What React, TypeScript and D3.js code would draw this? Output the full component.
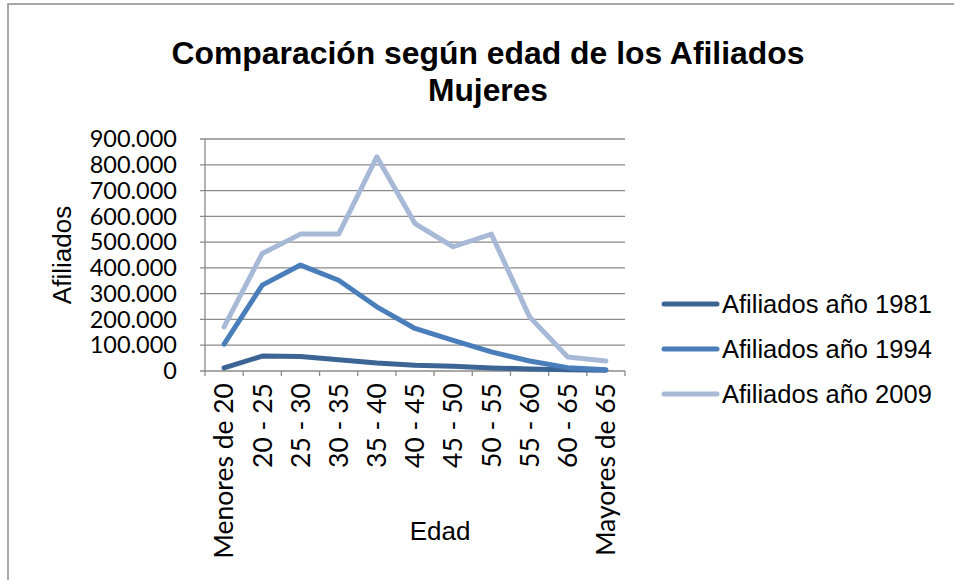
import React from "react";
import * as d3 from "d3";

const categories = ["Menores de 20", "20 - 25", "25 - 30", "30 - 35", "35 - 40", "40 - 45", "45 - 50", "50 - 55", "55 - 60", "60 - 65", "Mayores de 65"];
const seriesNames = ["Afiliados año 1981", "Afiliados año 1994", "Afiliados año 2009"];
const values1981 = [12000, 58000, 56000, 44000, 31000, 22000, 18000, 12000, 8000, 5000, 3000];
const values1994 = [104000, 333000, 411000, 352000, 249000, 165000, 119000, 74000, 39000, 13000, 5000];
const values2009 = [171000, 456000, 531000, 531000, 831000, 572000, 482000, 531000, 210000, 54000, 39000];
const yTicks = [0, 100000, 200000, 300000, 400000, 500000, 600000, 700000, 800000, 900000];
const colors = ["#3C6494", "#4A7EBB", "#A7B9D6"];

const W = 954, H = 580;
const left = 205, right = 625, top = 139, bottom = 371;

export default function App() {
  const x = d3.scaleBand<string>().domain(categories).range([left, right]);
  const y = d3.scaleLinear().domain([0, 900000]).range([bottom, top]);
  const fmt = (v: number) => (v === 0 ? "0" : d3.format(",")(v).replace(/,/g, "."));
  const line = d3.line<number>().x((_, i) => (x(categories[i]) as number) + x.bandwidth() / 2).y((v) => y(v));
  const all = [values1981, values1994, values2009];
  const tickFont = "Lato, 'Open Sans', sans-serif";
  const arial = "'Liberation Sans', Arial, sans-serif";
  return (
    <svg width={W} height={H} style={{ position: "absolute", left: 0, top: 0 }}>
      <rect x={0} y={0} width={W} height={H} fill="#fff" />
      <rect x={8} y={4} width={W + 20} height={H + 20} fill="none" stroke="#8c8c8c" strokeWidth={1.5} />
      <text x={488} y={64} textAnchor="middle" fontFamily={arial} fontWeight="bold" fontSize={31} textLength={633} lengthAdjust="spacingAndGlyphs">Comparación según edad de los Afiliados</text>
      <text x={488} y={101} textAnchor="middle" fontFamily={arial} fontWeight="bold" fontSize={31} textLength={120} lengthAdjust="spacingAndGlyphs">Mujeres</text>
      {yTicks.map((t) => (
        <g key={t}>
          <line x1={left - 5} x2={right} y1={y(t)} y2={y(t)} stroke="#8a8a8a" strokeWidth={1.3} />
          <text x={177} y={y(t)} dy="0.35em" textAnchor="end" fontFamily={tickFont} fontSize={23.5}>{fmt(t)}</text>
        </g>
      ))}
      <line x1={left} x2={left} y1={top} y2={bottom} stroke="#8a8a8a" strokeWidth={1.3} />
      {categories.map((c, i) => (
        <line key={"t" + i} x1={x(c) as number} x2={x(c) as number} y1={bottom} y2={bottom + 5} stroke="#8a8a8a" strokeWidth={1.3} />
      ))}
      <line x1={right} x2={right} y1={bottom} y2={bottom + 5} stroke="#8a8a8a" strokeWidth={1.3} />
      <text transform={`translate(62,255) rotate(-90)`} dy="0.35em" textAnchor="middle" fontFamily={arial} fontSize={26}>Afiliados</text>
      {categories.map((c) => (
        <text key={c} transform={`translate(${(x(c) as number) + x.bandwidth() / 2},383) rotate(-90)`} dy="0.35em" textAnchor="end" fontFamily={tickFont} fontSize={26.5}>{c}</text>
      ))}
      <text x={440} y={540} textAnchor="middle" fontFamily={arial} fontSize={26}>Edad</text>
      {all.map((vals, k) => (
        <path key={k} d={line(vals) as string} fill="none" stroke={colors[k]} strokeWidth={5} strokeLinejoin="round" strokeLinecap="round" />
      ))}
      {seriesNames.map((n, k) => {
        const ly = [304, 349, 394][k];
        return (
          <g key={n}>
            <line x1={664} x2={717} y1={ly} y2={ly} stroke={colors[k]} strokeWidth={5} strokeLinecap="round" />
            <text x={722} y={ly} dy="0.35em" fontFamily={arial} fontSize={25.5}>{n}</text>
          </g>
        );
      })}
    </svg>
  );
}
